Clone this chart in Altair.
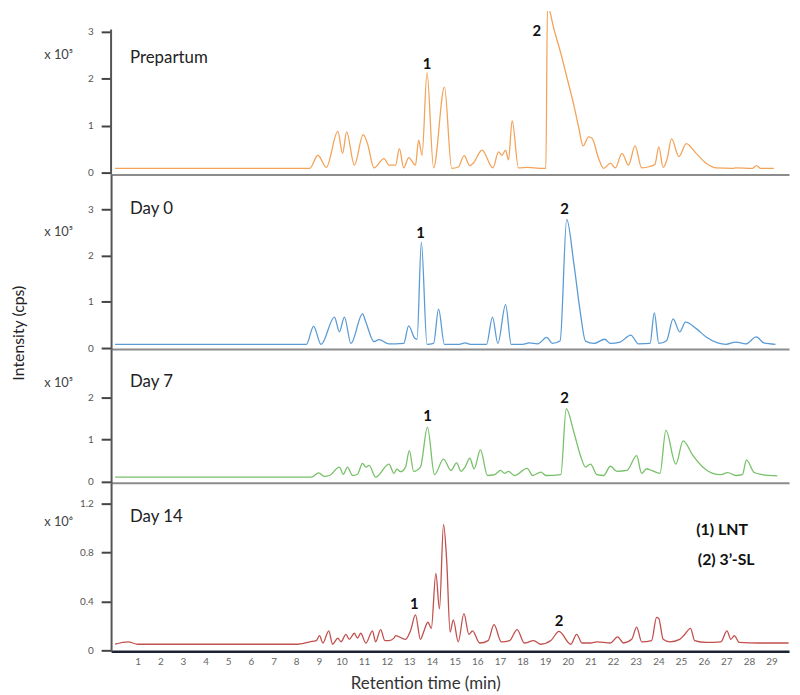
import altair as alt
import pandas as pd

FONT = "Lato"
X_MIN, X_MAX = -0.175, 29.77
X_TICKS = list(range(1, 30))
WIDTH = 684

# ---------------- data (retention time in min, intensity in axis units) ----------------
pre_t = [0, 8.6, 8.96, 9.33, 9.84, 10.05, 10.23, 10.57, 10.96, 11.15, 11.44, 11.88, 12.1, 12.39,
         12.56, 12.75, 12.97, 13.27, 13.41, 13.56, 13.78, 14.07, 14.55, 14.87, 15.16, 15.42, 15.67,
         15.82, 16.21, 16.69, 16.94, 17.09, 17.25, 17.38, 17.54, 17.82, 18.23, 18.52, 18.93, 19.03,
         19.1, 19.39, 19.68, 19.98, 20.27, 20.49, 20.67, 20.92, 21.07, 21.36, 21.58, 21.88, 22.1,
         22.39, 22.68, 22.97, 23.26, 23.63, 23.85, 24.02, 24.21, 24.39, 24.58, 24.91, 25.23, 25.67,
         26.11, 26.55, 27.28, 27.42, 28.15, 28.33, 28.52, 29.1]
pre_v = [0.09, 0.09, 0.37, 0.11, 0.88, 0.41, 0.87, 0.16, 0.81, 0.62, 0.10, 0.30, 0.16, 0.16,
         0.51, 0.10, 0.32, 0.16, 0.69, 0.37, 2.13, 0.10, 1.82, 0.09, 0.12, 0.36, 0.15,
         0.20, 0.48, 0.10, 0.44, 0.37, 0.48, 0.27, 1.11, 0.10, 0.11, 0.10, 0.09, 0.09,
         3.56, 3.05, 2.56, 1.99, 1.43, 0.94, 0.57, 0.76, 0.73, 0.30, 0.09, 0.20, 0.10,
         0.41, 0.16, 0.57, 0.10, 0.13, 0.18, 0.55, 0.11, 0.30, 0.72, 0.34, 0.62, 0.41,
         0.20, 0.10, 0.09, 0.10, 0.09, 0.15, 0.09, 0.09]

d0_t = [0, 8.45, 8.77, 9.1, 9.69, 9.91, 10.13, 10.42, 10.93, 11.08, 11.44, 11.66, 12.1, 12.39,
        12.75, 12.97, 13.24, 13.34, 13.53, 13.78, 14.07, 14.29, 14.55, 15.2, 15.46, 15.7, 16.41,
        16.67, 16.91, 17.25, 17.5, 18.0, 18.3, 18.67, 19.07, 19.32, 19.66, 19.95, 20.27, 20.56,
        20.78, 21.15, 21.63, 21.88, 22.31, 22.78, 23.12, 23.63, 23.82, 24.02, 24.36, 24.65, 24.94,
        25.2, 25.67, 26.11, 26.62, 26.98, 27.42, 27.86, 28.33, 28.66, 29.17]
d0_v = [0.08, 0.08, 0.47, 0.08, 0.67, 0.35, 0.67, 0.10, 0.74, 0.56, 0.14, 0.18, 0.09, 0.09,
        0.10, 0.48, 0.21, 0.19, 2.29, 0.08, 0.10, 0.84, 0.08, 0.08, 0.11, 0.08, 0.08,
        0.67, 0.10, 0.94, 0.08, 0.08, 0.11, 0.09, 0.23, 0.10, 0.16, 2.78, 1.81, 0.74,
        0.15, 0.10, 0.19, 0.10, 0.13, 0.28, 0.09, 0.10, 0.76, 0.10, 0.16, 0.63, 0.35,
        0.56, 0.42, 0.24, 0.11, 0.08, 0.13, 0.09, 0.24, 0.11, 0.08]

d7_t = [0, 8.67, 9.0, 9.25, 9.47, 9.91, 10.08, 10.27, 10.49, 10.71, 10.93, 11.08, 11.22, 11.51,
        12.1, 12.32, 12.45, 12.61, 12.83, 13.0, 13.19, 13.49, 13.8, 14.11, 14.51, 14.84, 15.09,
        15.28, 15.46, 15.67, 15.86, 16.14, 16.45, 16.77, 17.03, 17.21, 17.38, 17.64, 18.2, 18.45,
        18.81, 19.03, 19.69, 19.93, 20.27, 20.56, 20.78, 21.0, 21.29, 21.58, 21.88, 22.17, 22.61,
        23.04, 23.26, 23.48, 23.7, 24.07, 24.33, 24.77, 25.09, 25.53, 25.96, 26.4, 26.76, 27.06,
        27.42, 27.71, 27.89, 28.23, 28.59, 29.25]
d7_v = [0.11, 0.11, 0.21, 0.13, 0.15, 0.35, 0.18, 0.35, 0.15, 0.18, 0.44, 0.35, 0.39, 0.11,
        0.42, 0.20, 0.30, 0.24, 0.35, 0.74, 0.25, 0.35, 1.30, 0.17, 0.54, 0.27, 0.45,
        0.25, 0.35, 0.56, 0.31, 0.76, 0.15, 0.17, 0.27, 0.20, 0.25, 0.15, 0.32, 0.15,
        0.23, 0.15, 0.17, 1.74, 1.17, 0.62, 0.35, 0.42, 0.17, 0.15, 0.37, 0.25, 0.27,
        0.62, 0.20, 0.31, 0.27, 0.20, 1.22, 0.42, 0.97, 0.62, 0.35, 0.20, 0.17, 0.22,
        0.15, 0.17, 0.52, 0.22, 0.17, 0.14]

d14_t = [0, 0.57, 1.0, 8.0, 8.6, 8.89, 9.03, 9.18, 9.44, 9.61, 9.84, 9.98, 10.2, 10.35, 10.57,
         10.71, 10.85, 11.08, 11.37, 11.51, 11.73, 11.92, 12.1, 12.32, 12.39, 12.83, 13.05, 13.27,
         13.49, 13.63, 13.82, 13.97, 14.17, 14.33, 14.51, 14.65, 14.8, 14.94, 15.16, 15.41, 15.63,
         15.79, 16.11, 16.48, 16.74, 17.06, 17.43, 17.76, 18.08, 18.49, 18.81, 19.25, 19.61, 20.13,
         20.39, 20.63, 21.0, 21.29, 21.88, 22.2, 22.46, 22.82, 23.04, 23.26, 23.7, 23.92, 24.02,
         24.21, 24.5, 24.94, 25.16, 25.42, 25.6, 26.11, 26.76, 27.03, 27.2, 27.35, 27.57, 28.44,
         29.75]
d14_v = [0.05, 0.07, 0.05, 0.05, 0.07, 0.08, 0.12, 0.06, 0.16, 0.05, 0.10, 0.07, 0.13, 0.09, 0.14,
         0.10, 0.14, 0.06, 0.16, 0.07, 0.17, 0.08, 0.08, 0.10, 0.12, 0.09, 0.16, 0.29,
         0.09, 0.15, 0.23, 0.18, 0.63, 0.34, 1.03, 0.73, 0.15, 0.25, 0.07, 0.30, 0.13,
         0.16, 0.06, 0.08, 0.21, 0.07, 0.08, 0.17, 0.06, 0.08, 0.05, 0.08, 0.155, 0.05,
         0.13, 0.06, 0.06, 0.07, 0.06, 0.11, 0.06, 0.09, 0.19, 0.07, 0.08, 0.27, 0.26,
         0.09, 0.07, 0.09, 0.13, 0.18, 0.08, 0.065, 0.07, 0.16, 0.09, 0.12, 0.065, 0.06,
         0.06]

panel_names = ["Prepartum", "Day 0", "Day 7", "Day 14"]
panel_colors = ["#f3a35a", "#5b9bd5", "#78c06a", "#c0504d"]
unit_titles = ["x 10\u2075", "x 10\u2075", "x 10\u2075", "x 10\u2076"]
y_ticks = [[0, 1, 2, 3], [0, 1, 2, 3], [0, 1, 2], [0, 0.4, 0.8, 1.2]]
y_label_expr = ["format(datum.value, 'd')"] * 3 + [
    "datum.value == 0 ? '0' : format(datum.value, '.1f')"]
y_domains = [[-0.042, 3.444], [-0.021, 3.75], [-0.024, 3.153], [-0.008, 1.371]]
heights = [165, 176, 135, 170]
unit_title_y = [44, 57, 34, 39]
name_pos = [(0.66, 2.45), (0.66, 3.0), (0.66, 2.38), (0.66, 1.087)]

peak_labels = ["1", "2"]
peak_t = [[13.78, 18.63], [13.49, 19.86], [13.8, 19.86], [13.22, 19.61]]
peak_v = [[2.31, 3.01], [2.49, 3.01], [1.56, 1.99], [0.375, 0.24]]

legend_labels = ["(1) LNT", "(2) 3\u2019-SL"]
legend_t = [25.67, 25.74]
legend_v = [0.984, 0.74]

series = [(pre_t, pre_v), (d0_t, d0_v), (d7_t, d7_v), (d14_t, d14_v)]


def make_panel(i):
    t, v = series[i]
    last = i == 3
    df = pd.DataFrame({"t": t, "v": v})
    xscale = alt.Scale(domain=[X_MIN, X_MAX], nice=False, zero=False)
    yscale = alt.Scale(domain=y_domains[i], nice=False, zero=False)
    if last:
        xaxis = alt.Axis(values=X_TICKS, ticks=False, labelFontSize=10, labelColor="#666",
                         labelPadding=5, labelFont=FONT, labelOverlap=False, labelFlush=False,
                         domainColor="#1c2433", domainWidth=2.5, grid=False,
                         title="Retention time (min)", titleFont=FONT, titleFontSize=17,
                         titleFontWeight="normal", titleColor="#333", titleX=317, titleY=33,
                         titleBaseline="middle")
    else:
        xaxis = alt.Axis(labels=False, ticks=False, title=None, domainColor="#8c8c8c",
                         domainWidth=2, grid=False)
    yaxis = alt.Axis(values=y_ticks[i], labelExpr=y_label_expr[i], tickSize=10, tickWidth=2,
                     tickColor="#444", labelColor="#555", labelFontSize=10, labelPadding=8,
                     labelFont=FONT, labelFlush=False, labelOverlap=False, domain=(i != 0),
                     domainColor="#555", domainWidth=2, grid=False, title=unit_titles[i],
                     titleAngle=0, titleAlign="left", titleBaseline="middle", titleX=-68,
                     titleY=unit_title_y[i], titleFontSize=13, titleFontWeight="normal",
                     titleColor="#444", titleFont=FONT)
    xe = alt.X("t:Q", scale=xscale, axis=xaxis)
    ye = alt.Y("v:Q", scale=yscale, axis=yaxis)

    line = alt.Chart(df).mark_line(color=panel_colors[i], strokeWidth=1.3,
                                   interpolate="monotone", clip=(i == 0)).encode(x=xe, y=ye)

    name_df = pd.DataFrame({"t": [name_pos[i][0]], "v": [name_pos[i][1]],
                            "label": [panel_names[i]]})
    name = alt.Chart(name_df).mark_text(align="left", baseline="middle", font=FONT, fontSize=17,
                                        color="#222").encode(x=xe, y=ye, text="label:N")

    pk_df = pd.DataFrame({"t": peak_t[i], "v": peak_v[i], "label": peak_labels})
    peaks = alt.Chart(pk_df).mark_text(align="center", baseline="middle", font=FONT, fontSize=15,
                                       fontWeight="bold", color="#111").encode(
        x=xe, y=ye, text="label:N")

    layers = [line, name, peaks]

    if i == 0:
        ax_df = pd.DataFrame({"v": [y_domains[0][0]], "v2": [3.05]})
        axis_line = alt.Chart(ax_df).mark_rule(color="#555", strokeWidth=2).encode(
            x=alt.value(0), y=ye, y2="v2:Q")
        layers.append(axis_line)

    if i == 1:
        yt_df = pd.DataFrame({"label": ["Intensity (cps)"]})
        ytitle = alt.Chart(yt_df).mark_text(angle=270, align="center", baseline="middle",
                                            font=FONT, fontSize=16, color="#222").encode(
            x=alt.value(-93), y=alt.value(160), text="label:N")
        layers.append(ytitle)

    if last:
        lg_df = pd.DataFrame({"t": legend_t, "v": legend_v, "label": legend_labels})
        legend = alt.Chart(lg_df).mark_text(align="left", baseline="middle", font=FONT,
                                            fontSize=16, fontWeight="bold", color="#111").encode(
            x=xe, y=ye, text="label:N")
        layers.append(legend)

    return alt.layer(*layers).properties(width=WIDTH, height=heights[i])


chart = alt.vconcat(*[make_panel(i) for i in range(4)], spacing=0, bounds="flush").properties(
    padding={"left": 3, "top": 0, "right": 0, "bottom": 0}
).configure_view(stroke=None).configure_axis(grid=False)

chart.save("out.html", embed_options={"renderer": "svg", "actions": False})
